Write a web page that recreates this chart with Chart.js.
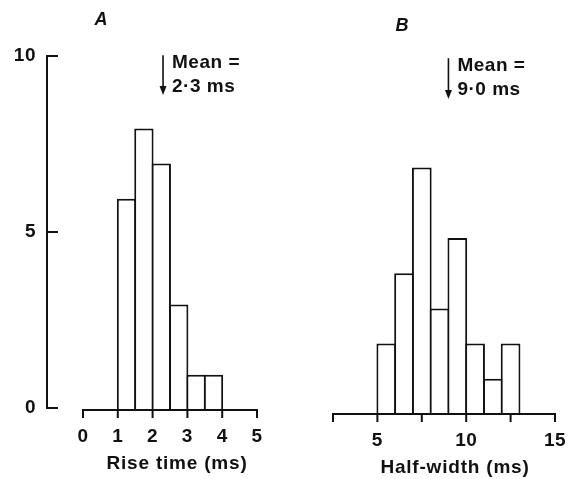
<!DOCTYPE html>
<html>
<head>
<meta charset="utf-8">
<script src="https://cdn.jsdelivr.net/npm/chart.js@4"></script>
<style>
  html, body { margin: 0; background: #fff; }
  #wrap { position: relative; width: 569px; height: 479px; }
  #wrap canvas { position: absolute; left: 0; top: 0; }
</style>
</head>
<body>
<div id="wrap">
  <canvas id="riseChart" width="569" height="479"></canvas>
  <canvas id="halfChart" width="569" height="479"></canvas>
</div>
<script>
// ── PANEL A: rise time, 0.5 ms bins ──────────────────
const riseCentres = [1.25, 1.75, 2.25, 2.75, 3.25, 3.75];
const riseCounts  = [6, 8, 7, 3, 1, 1];
const riseTicks   = [0, 1, 2, 3, 4, 5];
const riseLabels  = ["0", "1", "2", "3", "4", "5"];
const riseMean    = 2.3;

// ── PANEL B: half-width, 1 ms bins ───────────────────
const halfCentres = [5.5, 6.5, 7.5, 8.5, 9.5, 10.5, 11.5, 12.5];
const halfCounts  = [2, 4, 7, 3, 5, 2, 1, 2];
const halfTicks   = [2.5, 5, 7.5, 10, 12.5, 15];
const halfLabels  = ["", "5", "", "10", "", "15"];
const halfMean    = 9.0;

// shared count axis (only drawn on panel A)
const countTicks  = [0, 5, 10];
const countLabels = ["0", "5", "10"];

const ink = "#111";
const fontFamily = '"Liberation Sans", Arial, sans-serif';

// axes, labels and mean arrow, all placed through the chart's scales
const histAxes = {
  id: "histAxes",
  afterDatasetsDraw(chart, args, o) {
    const { ctx } = chart;
    const x = chart.scales.x, y = chart.scales.y;
    const y0 = y.getPixelForValue(0);
    ctx.save();
    ctx.strokeStyle = ink;
    ctx.fillStyle = ink;
    ctx.lineWidth = 2;
    ctx.lineCap = "square";

    // x axis: line from first to last tick, ticks hanging down
    const xa = x.getPixelForValue(o.xTicks[0]);
    const xb = x.getPixelForValue(o.xTicks[o.xTicks.length - 1]);
    ctx.beginPath();
    ctx.moveTo(xa, y0);
    ctx.lineTo(xb, y0);
    o.xTicks.forEach(v => {
      const px = x.getPixelForValue(v);
      ctx.moveTo(px, y0);
      ctx.lineTo(px, y0 + 7);
    });
    ctx.stroke();

    ctx.font = "bold 19px " + fontFamily;
    ctx.letterSpacing = "0.5px";
    ctx.textAlign = "center";
    ctx.textBaseline = "middle";
    o.xTicks.forEach((v, i) => {
      ctx.fillText(o.xLabels[i], x.getPixelForValue(v), y0 + 27);
    });

    // axis title
    ctx.font = "bold 19px " + fontFamily;
    ctx.letterSpacing = "0.8px";
    ctx.fillText(o.title, o.titleX, y0 + 54);

    // detached count axis with inward ticks
    if (o.yAxisX) {
      const yt = y.getPixelForValue(o.yTicks[o.yTicks.length - 1]);
      ctx.beginPath();
      ctx.moveTo(o.yAxisX, y0 - 2);
      ctx.lineTo(o.yAxisX, yt - 2);
      o.yTicks.forEach(v => {
        const py = y.getPixelForValue(v) - 2;
        ctx.moveTo(o.yAxisX, py);
        ctx.lineTo(o.yAxisX + 10, py);
      });
      ctx.stroke();
      ctx.font = "bold 19px " + fontFamily;
      ctx.letterSpacing = "0.5px";
      ctx.textAlign = "right";
      o.yTicks.forEach((v, i) => {
        ctx.fillText(o.yLabels[i], o.yAxisX - 11, y.getPixelForValue(v) - 2);
      });
    }

    // panel letter
    ctx.font = "italic bold 18px " + fontFamily;
    ctx.letterSpacing = "0px";
    ctx.textAlign = "center";
    ctx.fillText(o.letter, o.letterX, o.letterY);

    // mean arrow
    const mx = x.getPixelForValue(o.mean);
    ctx.lineWidth = 1.6;
    ctx.beginPath();
    ctx.moveTo(mx, o.arrowTop);
    ctx.lineTo(mx, o.arrowBottom - 6);
    ctx.stroke();
    ctx.beginPath();
    ctx.moveTo(mx - 3.5, o.arrowBottom - 9);
    ctx.lineTo(mx + 3.5, o.arrowBottom - 9);
    ctx.lineTo(mx, o.arrowBottom);
    ctx.closePath();
    ctx.fill();

    ctx.font = "bold 19px " + fontFamily;
    ctx.letterSpacing = "0.5px";
    ctx.textAlign = "left";
    ctx.fillText("Mean =", mx + 9, o.arrowTop + 7);
    ctx.fillText(o.meanText, mx + 9, o.arrowTop + 31);
    ctx.restore();
  }
};

function histogram(id, centres, counts, stepSize, xMin, xMax, padding, axisOpts) {
  return new Chart(document.getElementById(id), {
    type: "bar",
    data: {
      datasets: [{
        data: centres.map((c, i) => ({ x: c, y: counts[i] })),
        backgroundColor: "#fff",
        borderColor: ink,
        borderWidth: 2,
        borderSkipped: "start",
        inflateAmount: 0,
        categoryPercentage: 1,
        barPercentage: 1.11,
      }],
    },
    options: {
      responsive: false,
      animation: false,
      events: [],
      layout: { padding },
      plugins: {
        legend: { display: false },
        tooltip: { enabled: false },
        histAxes: axisOpts,
      },
      scales: {
        x: {
          type: "linear", min: xMin, max: xMax, display: false, offset: false,
          grid: { offset: false }, ticks: { stepSize },
        },
        y: { type: "linear", min: 0, max: 10, display: false, ticks: { stepSize: 5 } },
      },
    },
    plugins: [histAxes],
  });
}

histogram("riseChart", riseCentres, riseCounts, 1, 0, 5,
  { left: 83, right: 312, top: 58, bottom: 69 },
  {
    xTicks: riseTicks, xLabels: riseLabels, title: "Rise time (ms)", titleX: 177,
    yAxisX: 47, yTicks: countTicks, yLabels: countLabels,
    letter: "A", letterX: 101, letterY: 20,
    mean: riseMean, meanText: "2·3 ms", arrowTop: 56, arrowBottom: 95,
  });

histogram("halfChart", halfCentres, halfCounts, 2.5, 2.5, 15,
  { left: 333, right: 14, top: 62, bottom: 65 },
  {
    xTicks: halfTicks, xLabels: halfLabels, title: "Half-width (ms)", titleX: 455,
    letter: "B", letterX: 402, letterY: 26,
    mean: halfMean, meanText: "9·0 ms", arrowTop: 59, arrowBottom: 99,
  });
</script>
</body>
</html>
